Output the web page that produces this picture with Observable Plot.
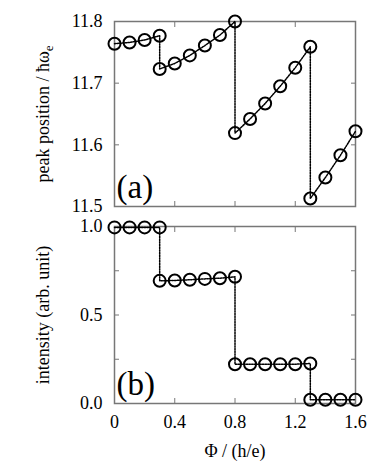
<!DOCTYPE html>
<html>
<head>
<meta charset="utf-8">
<script src="https://cdn.jsdelivr.net/npm/d3@7"></script>
<script src="https://cdn.jsdelivr.net/npm/@observablehq/plot@0.6"></script>
<style>
  html, body { margin: 0; padding: 0; background: #fff; }
  #wrap { position: relative; width: 382px; height: 461px; }
  #wrap svg { position: absolute; left: 0; overflow: visible; }
  #wrap svg, #wrap svg text, #wrap svg g { font-family: "Liberation Serif", "DejaVu Serif", "Times New Roman", Times, serif !important; }
</style>
</head>
<body>
<div id="wrap"></div>
<script>
const phi = [0, 0.1, 0.2, 0.3, 0.3, 0.4, 0.5, 0.6, 0.7, 0.8, 0.8, 0.9, 1.0, 1.1, 1.2, 1.3, 1.3, 1.4, 1.5, 1.6];
const peak = [11.764, 11.766, 11.770, 11.777, 11.723, 11.732, 11.745, 11.761, 11.778, 11.800, 11.619, 11.642, 11.667, 11.695, 11.725, 11.759, 11.513, 11.547, 11.583, 11.622];
const intensity = [0.995, 0.995, 0.995, 0.995, 0.693, 0.695, 0.699, 0.704, 0.708, 0.716, 0.222, 0.222, 0.222, 0.222, 0.222, 0.226, 0.021, 0.021, 0.021, 0.021];
const xTicks = [0, 0.4, 0.8, 1.2, 1.6];
const xInnerTicks = [0.4, 0.8, 1.2];
const peakTicks = [11.5, 11.6, 11.7, 11.8];
const intTicks = [0, 0.5, 1.0];
const intMinor = [0.25, 0.5, 0.75];

const FONT = "'Liberation Serif', 'DejaVu Serif', serif";
const frameColor = "#777";
const W = 382;

const topData = phi.map((x, i) => ({x, y: peak[i]}));
const botData = phi.map((x, i) => ({x, y: intensity[i]}));

function dataMarks(data) {
  return [
    Plot.line(data, {x: "x", y: "y", stroke: "black", strokeWidth: 1.5, strokeDasharray: "1.5,1.2"}),
    Plot.dot(data, {x: "x", y: "y", r: 6, stroke: "black", strokeWidth: 2, fill: "none"})
  ];
}

const topChart = Plot.plot({
  width: W, height: 220,
  marginLeft: 114, marginRight: 27, marginTop: 21, marginBottom: 14,
  style: {fontFamily: FONT, fontSize: "18px", color: "black", background: "transparent"},
  x: {domain: [0, 1.6]},
  y: {domain: [11.5, 11.8]},
  marks: [
    Plot.axisX(xInnerTicks, {anchor: "bottom", tickSize: -5, text: null, stroke: frameColor, label: null}),
    Plot.axisX(xInnerTicks, {anchor: "top", tickSize: -5, text: null, stroke: frameColor, label: null}),
    Plot.axisY([11.6, 11.7], {anchor: "right", tickSize: -5, text: null, stroke: frameColor, label: null}),
    Plot.axisY([11.6, 11.7], {anchor: "left", tickSize: -5, text: null, stroke: frameColor, label: null}),
    Plot.axisY(peakTicks, {anchor: "left", tickSize: 0, tickPadding: 12, tickFormat: d => d.toFixed(1),
      label: "peak position / ħω", labelAnchor: "center", labelArrow: false, labelOffset: 78, fontSize: 18, fontFamily: FONT}),
    Plot.frame({stroke: frameColor, strokeWidth: 1.5}),
    ...dataMarks(topData),
    Plot.text(["(a)"], {frameAnchor: "bottom-left", dx: 2, dy: -9, fontSize: 33, fill: "black", fontFamily: FONT})
  ]
});

const botChart = Plot.plot({
  width: W, height: 241,
  marginLeft: 114, marginRight: 27, marginTop: 6, marginBottom: 58,
  style: {fontFamily: FONT, fontSize: "18px", color: "black", background: "transparent"},
  x: {domain: [0, 1.6]},
  y: {domain: [0, 1]},
  marks: [
    Plot.axisX(xInnerTicks, {anchor: "bottom", tickSize: -5, text: null, stroke: frameColor, label: null}),
    Plot.axisX(xInnerTicks, {anchor: "top", tickSize: -5, text: null, stroke: frameColor, label: null}),
    Plot.axisY(intMinor, {anchor: "right", tickSize: -5, text: null, stroke: frameColor, label: null}),
    Plot.axisY(intMinor, {anchor: "left", tickSize: -5, text: null, stroke: frameColor, label: null}),
    Plot.axisY(intTicks, {anchor: "left", tickSize: 0, tickPadding: 12, tickFormat: d => d.toFixed(1),
      label: "intensity (arb. unit)", labelAnchor: "center", labelArrow: false, labelOffset: 78, fontSize: 18, fontFamily: FONT}),
    Plot.axisX(xTicks, {anchor: "bottom", tickSize: 0, tickPadding: 12, tickFormat: d => d === 0 ? "0" : d.toFixed(1),
      label: "Φ / (h/e)", labelAnchor: "center", labelArrow: false, labelOffset: 53, fontSize: 18, fontFamily: FONT}),
    Plot.frame({stroke: frameColor, strokeWidth: 1.5}),
    ...dataMarks(botData),
    Plot.text(["(b)"], {frameAnchor: "bottom-left", dx: 2, dy: -9, fontSize: 33, fill: "black", fontFamily: FONT})
  ]
});

const wrap = document.getElementById("wrap");
topChart.style.top = "0px";
botChart.style.top = "220px";
wrap.appendChild(topChart);
wrap.appendChild(botChart);

d3.select(wrap).selectAll("text").attr("font-family", FONT).style("font-family", FONT);

// add subscript "e" to the top y-axis label
d3.select(topChart).selectAll("g[aria-label='y-axis label'] text").each(function() {
  const t = d3.select(this);
  if (t.text().startsWith("peak")) {
    t.append("tspan").attr("dy", "0.3em").attr("font-size", "13px").text("e");
  }
});
</script>
</body>
</html>
